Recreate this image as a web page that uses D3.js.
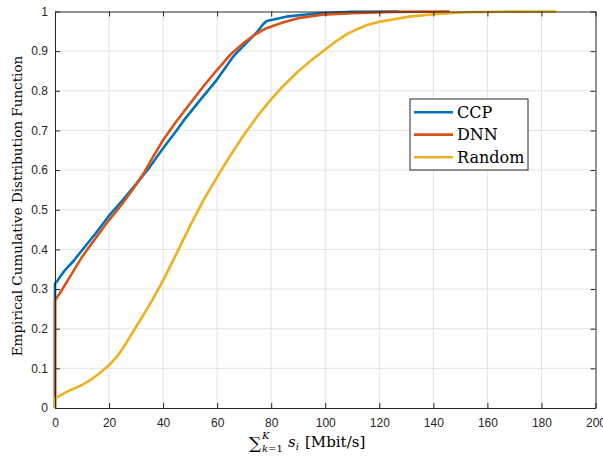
<!DOCTYPE html>
<html><head><meta charset="utf-8">
<script src="https://cdn.jsdelivr.net/npm/d3@7"></script>
<style>
html,body{margin:0;padding:0;background:#fff;}
svg{display:block;}
</style></head>
<body>
<script>
// ---- data ----
const xTicks = [0,20,40,60,80,100,120,140,160,180,200];
const yTicks = [0,0.1,0.2,0.3,0.4,0.5,0.6,0.7,0.8,0.9,1];
const yTickLabels = ["0","0.1","0.2","0.3","0.4","0.5","0.6","0.7","0.8","0.9","1"];
const seriesNames = ["CCP","DNN","Random"];
const ccpX = [0,0,1,3.7,7,10,15,20,25,30,35,40,45,47.5,53.6,59.8,65.9,72,75,77,78.3,85.6,92,99,110,127];
const ccpY = [0,0.314,0.322,0.348,0.372,0.398,0.44,0.485,0.524,0.565,0.607,0.655,0.70,0.724,0.776,0.827,0.886,0.929,0.95,0.968,0.976,0.987,0.992,0.996,0.999,1.0];
const dnnX = [0,0,1.85,5,10,15,20,25,30,33,36,40,45,50,55,60,65,70,74,78.2,84.3,90.6,99,110,125,146];
const dnnY = [0,0.272,0.29,0.325,0.381,0.428,0.474,0.516,0.563,0.594,0.63,0.676,0.724,0.768,0.812,0.853,0.892,0.922,0.942,0.958,0.972,0.984,0.992,0.996,0.999,1.0];
const rndX = [0,0,2,5,8,10,13,16,20,23,26,30,33,36,40,45,50,55,60,65,70,75,80,85,90,95,100,104,108,112,115.5,120,125,131,140,152,165,185.5];
const rndY = [0,0.024,0.032,0.043,0.052,0.058,0.07,0.085,0.108,0.13,0.16,0.205,0.238,0.272,0.322,0.39,0.46,0.525,0.583,0.638,0.69,0.737,0.779,0.816,0.849,0.878,0.904,0.925,0.943,0.956,0.966,0.974,0.98,0.987,0.993,0.998,0.9995,1.0];
const colors = ["#0072BD","#D95319","#EDB120"];

// ---- layout ----
const W = 603, H = 456;
const L = 55, R = 595.5, T = 11.5, B = 408;
const svg = d3.select("body").append("svg").attr("width", W).attr("height", H);
const x = d3.scaleLinear().domain([0,200]).range([L,R]);
const y = d3.scaleLinear().domain([0,1]).range([B,T]);
const axisColor = "#262626";
const tickFont = "'Liberation Sans', Arial, Helvetica, sans-serif";
const serif = "'DejaVu Serif', serif";

// grid
const grid = svg.append("g");
grid.selectAll("line.gx").data(xTicks.slice(1,-1)).join("line")
  .attr("x1", d=>x(d)).attr("x2", d=>x(d)).attr("y1", T).attr("y2", B)
  .attr("stroke", "#e3e3e3").attr("stroke-width", 1);
grid.selectAll("line.gy").data(yTicks.slice(1,-1)).join("line")
  .attr("y1", d=>y(d)).attr("y2", d=>y(d)).attr("x1", L).attr("x2", R)
  .attr("stroke", "#e3e3e3").attr("stroke-width", 1);

// series
const series = [[ccpX,ccpY],[dnnX,dnnY],[rndX,rndY]];
const line = d3.line().x(d=>x(d[0])).y(d=>y(d[1]));
series.forEach((s,i)=>{
  const pts = s[0].map((v,j)=>[v, s[1][j]]);
  svg.append("path").datum(pts).attr("d", line)
    .attr("fill","none").attr("stroke", colors[i]).attr("stroke-width", 2.6)
    .attr("stroke-linejoin","round");
});

// axes (ticks inside, box on)
const gx = svg.append("g").attr("transform", `translate(0,${B})`)
  .call(d3.axisBottom(x).tickValues(xTicks).tickSizeInner(-5).tickSizeOuter(0).tickPadding(10));
const gxt = svg.append("g").attr("transform", `translate(0,${T})`)
  .call(d3.axisTop(x).tickValues(xTicks).tickSizeInner(-5).tickSizeOuter(0).tickFormat(""));
const gy = svg.append("g").attr("transform", `translate(${L},0)`)
  .call(d3.axisLeft(y).tickValues(yTicks).tickSizeInner(-5).tickSizeOuter(0).tickPadding(7)
    .tickFormat((d,i)=>yTickLabels[i]));
const gyr = svg.append("g").attr("transform", `translate(${R},0)`)
  .call(d3.axisRight(y).tickValues(yTicks).tickSizeInner(-5).tickSizeOuter(0).tickFormat(""));
[gx,gxt,gy,gyr].forEach(g=>{
  g.select(".domain").attr("stroke", axisColor).attr("stroke-width", 1);
  g.selectAll(".tick line").attr("stroke", axisColor).attr("stroke-width", 1);
  g.selectAll(".tick text").attr("fill", axisColor).style("font-family", tickFont).style("font-size","12px");
});

// legend
const lg = svg.append("g");
lg.append("rect").attr("x",410).attr("y",99).attr("width",118).attr("height",71)
  .attr("fill","#fff").attr("stroke", axisColor).attr("stroke-width", 1);
const rowY = [112.3, 134.6, 157.2];
seriesNames.forEach((n,i)=>{
  lg.append("line").attr("x1",414).attr("x2",453).attr("y1",rowY[i]).attr("y2",rowY[i])
    .attr("stroke", colors[i]).attr("stroke-width", 2.6);
  lg.append("text").attr("x",457).attr("y",rowY[i]+5.5).text(n)
    .style("font-family", serif).style("font-size","16px").attr("fill","#000");
});

// y label
svg.append("text").attr("transform","translate(22,206) rotate(-90)")
  .attr("text-anchor","middle").style("font-family", serif).style("font-size","13.5px")
  .attr("fill","#000").text("Empirical Cumulative Distribution Function");

// x label: sum_{k=1}^K s_i [Mbit/s]
const xl = svg.append("text").attr("y", 447).style("font-family", serif).attr("fill","#000");
const baseX = 249;
xl.append("tspan").attr("x", baseX).attr("y", 449).style("font-size","17px").text("∑");
xl.append("tspan").attr("x", baseX+13).attr("y", 439).style("font-size","10px").style("font-style","italic").text("K");
xl.append("tspan").attr("x", baseX+13).attr("y", 452).style("font-size","10px").text("k").style("font-style","italic");
xl.append("tspan").style("font-size","10px").text("=1");
xl.append("tspan").attr("x", baseX+39).attr("y", 447).style("font-size","15px").style("font-style","italic").text("s");
xl.append("tspan").attr("y", 450).style("font-size","10px").style("font-style","italic").text("i");
xl.append("tspan").attr("x", baseX+56).attr("y", 447).style("font-size","15px").text("[Mbit/s]");
</script>
</body></html>
